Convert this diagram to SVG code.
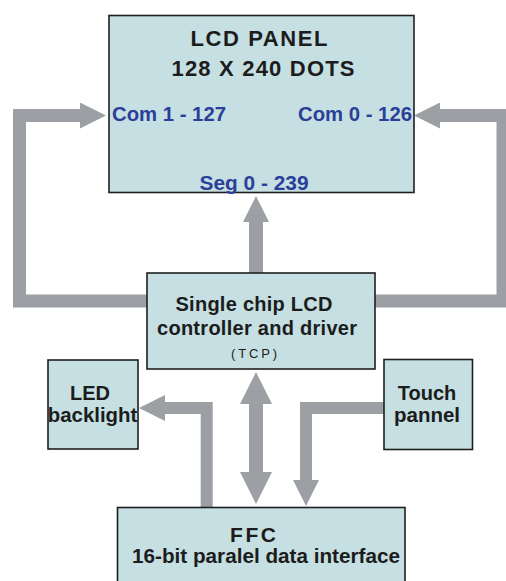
<svg xmlns="http://www.w3.org/2000/svg" width="506" height="581" viewBox="0 0 506 581">
<style>
.box{fill:#c5dfe2;stroke:#1e1e1e;stroke-width:1.6}
.t{font-family:"Liberation Sans",Arial,sans-serif;font-weight:bold;fill:#1c1c1c;text-anchor:middle}
.b{font-family:"Liberation Sans",Arial,sans-serif;font-weight:bold;fill:#2b3f99;text-anchor:middle}
.s{font-family:"Liberation Sans",Arial,sans-serif;fill:#1c1c1c;text-anchor:middle}
.c{fill:none;stroke:#9c9fa4;stroke-linejoin:miter;stroke-linecap:butt}
</style>
<defs>
<marker id="head" viewBox="0 0 26 26" refX="0" refY="13" markerWidth="26" markerHeight="26" markerUnits="userSpaceOnUse" orient="auto">
<path d="M0,0 L26,13 L0,26 Z" fill="#9c9fa4"/>
</marker>
<marker id="big" viewBox="0 0 32 32" refX="0" refY="16" markerWidth="32" markerHeight="32" markerUnits="userSpaceOnUse" orient="auto-start-reverse">
<path d="M0,0 L32,16 L0,32 Z" fill="#9c9fa4"/>
</marker>
</defs>
<g id="connectors">
<path class="c" stroke-width="13" d="M147,301 H19.5 V115.5 H80" marker-end="url(#head)"/>
<path class="c" stroke-width="13" d="M375,301 H503 V115.5 H440" marker-end="url(#head)"/>
<path class="c" stroke-width="14" d="M256,273 V222" marker-end="url(#head)"/>
<path class="c" stroke-width="14" d="M256,404 V472" marker-start="url(#big)" marker-end="url(#big)"/>
<path class="c" stroke-width="12" d="M206.7,507 V408 H165" marker-end="url(#head)"/>
<path class="c" stroke-width="12" d="M384,408 H306 V480" marker-end="url(#head)"/>
</g>
<g id="lcd-panel">
<rect class="box" x="109" y="15.5" width="305" height="177"/>
<text class="t" x="259" y="46" font-size="22" textLength="137" lengthAdjust="spacing">LCD PANEL</text>
<text class="t" x="263" y="76" font-size="22" textLength="183" lengthAdjust="spacing">128 X 240 DOTS</text>
<text class="b" x="169" y="121" font-size="19.5" textLength="114" lengthAdjust="spacingAndGlyphs">Com 1 - 127</text>
<text class="b" x="355" y="121" font-size="19.5" textLength="114" lengthAdjust="spacingAndGlyphs">Com 0 - 126</text>
<text class="b" x="254" y="189.5" font-size="19.5" textLength="109" lengthAdjust="spacingAndGlyphs">Seg 0 - 239</text>
</g>
<g id="controller">
<rect class="box" x="147" y="273" width="228" height="96"/>
<text class="t" x="254" y="311" font-size="20" textLength="157" lengthAdjust="spacing">Single chip LCD</text>
<text class="t" x="257" y="335" font-size="20" textLength="200" lengthAdjust="spacing">controller and driver</text>
<text class="s" x="254" y="358" font-size="13" textLength="46" lengthAdjust="spacing">(TCP)</text>
</g>
<g id="led-backlight">
<rect class="box" x="48" y="360" width="90" height="89"/>
<text class="t" x="90" y="399.5" font-size="20">LED</text>
<text class="t" x="92.5" y="421.5" font-size="20" textLength="89.5" lengthAdjust="spacingAndGlyphs">backlight</text>
</g>
<g id="touch-panel">
<rect class="box" x="384" y="359.5" width="88.5" height="90"/>
<text class="t" x="427" y="399.5" font-size="20">Touch</text>
<text class="t" x="427" y="421.5" font-size="20" textLength="66" lengthAdjust="spacingAndGlyphs">pannel</text>
</g>
<g id="ffc">
<rect class="box" x="117.5" y="507.5" width="287.5" height="80"/>
<text class="t" x="253" y="542" font-size="21" textLength="46" lengthAdjust="spacing">FFC</text>
<text class="t" x="266" y="562.5" font-size="20.5" textLength="268" lengthAdjust="spacingAndGlyphs">16-bit paralel data interface</text>
</g>
</svg>
